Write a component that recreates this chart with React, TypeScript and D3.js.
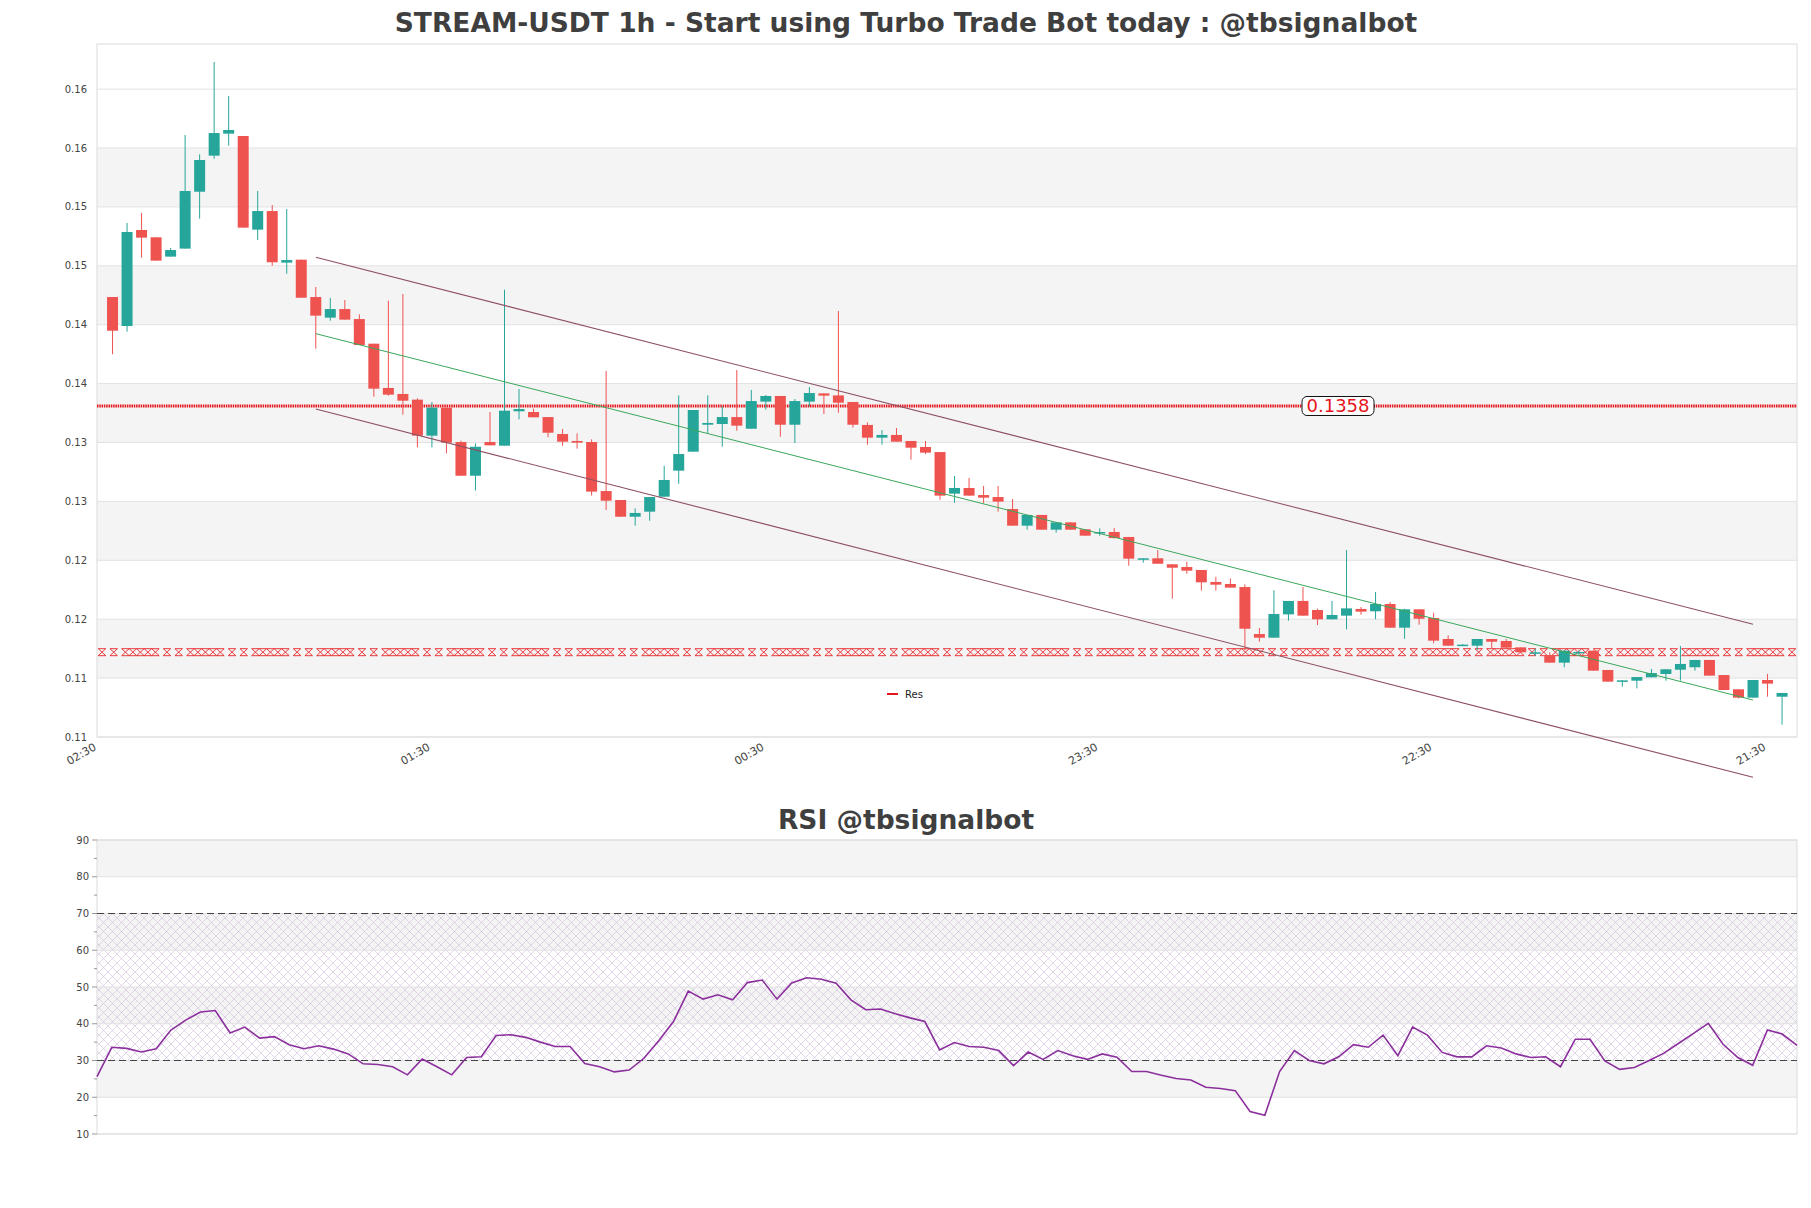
import React, { useEffect, useRef } from 'react';
import * as d3 from 'd3';

// candles, 1h, oldest on the left
const opens = [
  0.14505, 0.14259, 0.15074, 0.15012, 0.14848, 0.14916, 0.15399, 0.15705, 0.15892, 0.15872,
  0.15077, 0.15235, 0.14797, 0.14822, 0.14505, 0.14330, 0.14403, 0.14318, 0.14109, 0.13733,
  0.13682, 0.13634, 0.13328, 0.13566, 0.13274, 0.12988, 0.13274, 0.13243, 0.13535, 0.13529,
  0.13486, 0.13342, 0.13283, 0.13274, 0.12858, 0.12782, 0.12640, 0.12683, 0.12810, 0.13031,
  0.13192, 0.13421, 0.13427, 0.13486, 0.13387, 0.13617, 0.13665, 0.13421, 0.13617, 0.13687,
  0.13670, 0.13614, 0.13419, 0.13311, 0.13334, 0.13283, 0.13232, 0.13189, 0.12836, 0.12884,
  0.12824, 0.12807, 0.12705, 0.12564, 0.12655, 0.12530, 0.12592, 0.12533, 0.12505, 0.12510,
  0.12468, 0.12281, 0.12287, 0.12236, 0.12213, 0.12188, 0.12086, 0.12069, 0.12043, 0.11644,
  0.11613, 0.11811, 0.11925, 0.11848, 0.11769, 0.11800, 0.11857, 0.11837, 0.11899, 0.11698,
  0.11854, 0.11780, 0.11602, 0.11545, 0.11545, 0.11602, 0.11585, 0.11531, 0.11483, 0.11466,
  0.11401, 0.11483, 0.11503, 0.11339, 0.11240, 0.11248, 0.11277, 0.11305, 0.11341, 0.11362,
  0.11424, 0.11296, 0.11175, 0.11104, 0.11254, 0.11112,
];
const highs = [
  0.14505, 0.15133, 0.15218, 0.15012, 0.14921, 0.15880, 0.15716, 0.16500, 0.16211, 0.15872,
  0.15405, 0.15286, 0.15252, 0.14822, 0.14590, 0.14497, 0.14480, 0.14358, 0.14109, 0.14474,
  0.14531, 0.13645, 0.13614, 0.13566, 0.13285, 0.13263, 0.13529, 0.14567, 0.13724, 0.13557,
  0.13486, 0.13385, 0.13348, 0.13297, 0.13877, 0.12782, 0.12711, 0.12807, 0.13071, 0.13670,
  0.13546, 0.13670, 0.13577, 0.13885, 0.13716, 0.13673, 0.13665, 0.13639, 0.13741, 0.13687,
  0.14386, 0.13614, 0.13441, 0.13376, 0.13393, 0.13283, 0.13283, 0.13189, 0.12986, 0.12969,
  0.12901, 0.12901, 0.12790, 0.12655, 0.12655, 0.12592, 0.12592, 0.12533, 0.12541, 0.12544,
  0.12468, 0.12287, 0.12357, 0.12236, 0.12258, 0.12188, 0.12131, 0.12117, 0.12066, 0.11695,
  0.12015, 0.11925, 0.12043, 0.11859, 0.11925, 0.12357, 0.11874, 0.12001, 0.11916, 0.11859,
  0.11854, 0.11825, 0.11633, 0.11559, 0.11602, 0.11602, 0.11602, 0.11531, 0.11520, 0.11489,
  0.11503, 0.11503, 0.11503, 0.11339, 0.11251, 0.11279, 0.11347, 0.11345, 0.11542, 0.11424,
  0.11424, 0.11296, 0.11175, 0.11254, 0.11305, 0.11144,
];
const lows = [
  0.14019, 0.14211, 0.14839, 0.14814, 0.14848, 0.14916, 0.15170, 0.15679, 0.15790, 0.15094,
  0.14989, 0.14771, 0.14703, 0.14499, 0.14067, 0.14304, 0.14313, 0.14098, 0.13659, 0.13667,
  0.13506, 0.13229, 0.13229, 0.13178, 0.12988, 0.12864, 0.13246, 0.13243, 0.13467, 0.13484,
  0.13314, 0.13243, 0.13218, 0.12819, 0.12697, 0.12640, 0.12564, 0.12606, 0.12810, 0.12920,
  0.13192, 0.13348, 0.13235, 0.13370, 0.13387, 0.13549, 0.13319, 0.13266, 0.13574, 0.13512,
  0.13523, 0.13396, 0.13252, 0.13252, 0.13277, 0.13124, 0.13172, 0.12785, 0.12759, 0.12819,
  0.12754, 0.12683, 0.12564, 0.12530, 0.12530, 0.12505, 0.12530, 0.12479, 0.12479, 0.12454,
  0.12224, 0.12250, 0.12241, 0.11944, 0.12156, 0.12012, 0.12012, 0.12038, 0.11509, 0.11579,
  0.11613, 0.11757, 0.11800, 0.11721, 0.11769, 0.11684, 0.11808, 0.11769, 0.11698, 0.11604,
  0.11723, 0.11565, 0.11545, 0.11545, 0.11509, 0.11520, 0.11528, 0.11489, 0.11458, 0.11401,
  0.11362, 0.11470, 0.11333, 0.11240, 0.11197, 0.11183, 0.11277, 0.11248, 0.11248, 0.11333,
  0.11291, 0.11169, 0.11098, 0.11104, 0.11112, 0.10875,
];
const closes = [
  0.14219, 0.15057, 0.15009, 0.14814, 0.14904, 0.15405, 0.15668, 0.15897, 0.15923, 0.15094,
  0.15235, 0.14800, 0.14819, 0.14499, 0.14347, 0.14403, 0.14313, 0.14098, 0.13727, 0.13676,
  0.13625, 0.13328, 0.13566, 0.13269, 0.12988, 0.13234, 0.13246, 0.13540, 0.13554, 0.13484,
  0.13353, 0.13277, 0.13269, 0.12853, 0.12776, 0.12640, 0.12672, 0.12807, 0.12952, 0.13172,
  0.13546, 0.13436, 0.13486, 0.13413, 0.13622, 0.13665, 0.13421, 0.13622, 0.13690, 0.13668,
  0.13608, 0.13421, 0.13311, 0.13334, 0.13277, 0.13226, 0.13184, 0.12819, 0.12884, 0.12819,
  0.12802, 0.12768, 0.12564, 0.12655, 0.12530, 0.12592, 0.12530, 0.12479, 0.12510, 0.12459,
  0.12284, 0.12287, 0.12241, 0.12207, 0.12182, 0.12083, 0.12063, 0.12038, 0.11689, 0.11613,
  0.11814, 0.11925, 0.11800, 0.11769, 0.11806, 0.11862, 0.11834, 0.11899, 0.11698, 0.11854,
  0.11774, 0.11588, 0.11545, 0.11554, 0.11602, 0.11579, 0.11528, 0.11489, 0.11489, 0.11401,
  0.11503, 0.11492, 0.11333, 0.11240, 0.11251, 0.11279, 0.11313, 0.11345, 0.11390, 0.11424,
  0.11291, 0.11169, 0.11104, 0.11254, 0.11223, 0.11144,
];

const rsiValues = [
  25.6, 33.6, 33.3, 32.3, 33.2, 38.3, 41.0, 43.2, 43.6, 37.5,
  39.1, 36.1, 36.5, 34.3, 33.2, 34.0, 33.1, 31.8, 29.1, 28.9,
  28.3, 26.1, 30.4, 28.3, 26.1, 30.8, 31.0, 36.8, 37.0, 36.3,
  35.0, 33.8, 33.8, 29.2, 28.3, 26.9, 27.4, 30.6, 35.4, 40.6,
  48.9, 46.7, 47.9, 46.5, 51.2, 51.9, 46.7, 51.1, 52.5, 52.1,
  51.0, 46.5, 43.8, 44.0, 42.7, 41.6, 40.6, 32.9, 34.9, 33.8,
  33.6, 32.7, 28.6, 32.3, 30.3, 32.7, 31.3, 30.3, 31.8, 30.9,
  27.0, 27.0, 26.0, 25.1, 24.7, 22.7, 22.4, 21.8, 16.1, 15.1,
  27.0, 32.7, 30.0, 29.1, 31.0, 34.3, 33.6, 36.9, 31.3, 39.1,
  36.9, 32.2, 31.0, 31.0, 34.0, 33.4, 31.8, 30.8, 31.0, 28.3,
  35.8, 35.8, 29.9, 27.6, 28.1, 30.0, 32.0, 34.7, 37.4, 40.1,
  34.4, 30.8, 28.7, 38.3, 37.2, 34.1,
];

const priceTicks = [0.1077, 0.1127, 0.1177, 0.1227, 0.1277, 0.1327, 0.1377, 0.1427, 0.1477, 0.1527, 0.1577, 0.1627];
const timeTickIndex = [-1, 22, 45, 68, 91, 114];
const timeTickLabels = ['02:30', '01:30', '00:30', '23:30', '22:30', '21:30'];
const rsiTicks = [10, 20, 30, 40, 50, 60, 70, 80, 90];

const resistanceLevel = 0.1358;
const supportLevel = 0.1149;
const channelIndex = [14, 113];
const upperChannel = [0.14842, 0.11727];
const midChannel = [0.14194, 0.11084];
const lowerChannel = [0.13554, 0.10428];

const W = 1811;
const H = 1208;
const main = { left: 97, right: 1797, top: 44, bottom: 737 };
const rsiBox = { left: 97, right: 1797, top: 840, bottom: 1134 };
const UP = '#26a69a';
const DOWN = '#ef5350';
const FONT = 'DejaVu Sans, sans-serif';

export default function App() {
  const svgRef = useRef<SVGSVGElement>(null);

  useEffect(() => {
    const svg = d3.select(svgRef.current);
    svg.selectAll('*').remove();

    svg.append('rect').attr('width', W).attr('height', H).attr('fill', '#fff');

    // hatch for the rsi 30-70 zone
    const defs = svg.append('defs');
    const pat = defs.append('pattern')
      .attr('id', 'hatch').attr('patternUnits', 'userSpaceOnUse')
      .attr('width', 9).attr('height', 9);
    pat.append('path').attr('d', 'M0,0 L9,9 M9,0 L0,9')
      .attr('stroke', '#cdbcd8').attr('stroke-width', 0.6).attr('fill', 'none');

    // ---------- price chart ----------
    const x = d3.scaleLinear().domain([-1.07, 116.03]).range([main.left, main.right]);
    const y = d3.scaleLinear().domain([0.1077, 0.16653]).range([main.bottom, main.top]);
    const fmt = d3.format('.2f');

    const g = svg.append('g');

    // alternating bands
    for (let k = 1; k + 1 < priceTicks.length; k += 2) {
      g.append('rect')
        .attr('x', main.left).attr('width', main.right - main.left)
        .attr('y', y(priceTicks[k + 1])).attr('height', y(priceTicks[k]) - y(priceTicks[k + 1]))
        .attr('fill', '#f4f4f4');
    }
    g.selectAll('line.grid').data(priceTicks).enter().append('line')
      .attr('x1', main.left).attr('x2', main.right)
      .attr('y1', d => y(d)).attr('y2', d => y(d))
      .attr('stroke', '#e2e2e2').attr('stroke-width', 1);

    g.append('rect')
      .attr('x', main.left).attr('y', main.top)
      .attr('width', main.right - main.left).attr('height', main.bottom - main.top)
      .attr('fill', 'none').attr('stroke', '#dcdcdc');

    g.selectAll('text.ylab').data(priceTicks).enter().append('text')
      .attr('x', main.left - 10).attr('y', d => y(d))
      .attr('dy', '0.35em').attr('text-anchor', 'end')
      .attr('font-family', FONT).attr('font-size', 10).attr('fill', '#444')
      .text(d => fmt(d));

    timeTickIndex.forEach((idx, i) => {
      g.append('text')
        .attr('transform', `translate(${x(idx) - 3},${main.bottom + 9}) rotate(-30)`)
        .attr('text-anchor', 'end').attr('dy', '0.35em')
        .attr('font-family', FONT).attr('font-size', 11).attr('fill', '#444')
        .text(timeTickLabels[i]);
    });

    // support "Res" line drawn with hourglass x markers
    const sy = y(supportLevel);
    const sg = g.append('g').attr('stroke', '#e8262a').attr('stroke-width', 0.9).attr('fill', 'none');
    const groupOffsets = [0, 11.7, 23.4, 30.9, 38.4, 45.9, 53.4];
    const mw = 3.75;
    const mh = 3.5;
    for (let px = main.left + 5; px < main.right; px += 65) {
      groupOffsets.forEach(o => {
        const cx = px + o;
        if (cx > main.right - mw) return;
        sg.append('path').attr('d',
          `M${cx - mw},${sy - mh}L${cx + mw},${sy + mh}M${cx + mw},${sy - mh}L${cx - mw},${sy + mh}` +
          `M${cx - mw},${sy - mh}H${cx + mw}M${cx - mw},${sy + mh}H${cx + mw}`);
      });
    }

    // resistance line
    const ry = y(resistanceLevel);
    g.append('line').attr('x1', main.left).attr('x2', main.right).attr('y1', ry).attr('y2', ry)
      .attr('stroke', '#e4161b').attr('stroke-width', 3).attr('stroke-dasharray', '1.5,0.8');

    // candles
    const candles = opens.map((o, i) => ({ i, o, h: highs[i], l: lows[i], c: closes[i] }));
    const bw = 11;
    const cg = g.selectAll('g.candle').data(candles).enter().append('g');
    cg.append('line')
      .attr('x1', d => x(d.i)).attr('x2', d => x(d.i))
      .attr('y1', d => y(d.h)).attr('y2', d => y(d.l))
      .attr('stroke', d => (d.c >= d.o ? UP : DOWN)).attr('stroke-width', 1);
    cg.append('rect')
      .attr('x', d => x(d.i) - bw / 2).attr('width', bw)
      .attr('y', d => y(Math.max(d.o, d.c)))
      .attr('height', d => Math.max(1.5, Math.abs(y(d.o) - y(d.c))))
      .attr('fill', d => (d.c >= d.o ? UP : DOWN));

    // channel
    const line = d3.line<number>().x((_, k) => x(channelIndex[k])).y(d => y(d));
    g.append('path').attr('d', line(upperChannel)).attr('stroke', '#8e5062').attr('stroke-width', 1.1).attr('fill', 'none');
    g.append('path').attr('d', line(lowerChannel)).attr('stroke', '#8e5062').attr('stroke-width', 1.1).attr('fill', 'none');
    g.append('path').attr('d', line(midChannel)).attr('stroke', '#3aa85a').attr('stroke-width', 1).attr('fill', 'none');

    // level label
    const lx = 1338;
    const lab = g.append('g');
    lab.append('rect').attr('x', lx - 36).attr('y', ry - 9.5).attr('width', 72).attr('height', 19)
      .attr('rx', 5).attr('fill', '#fff').attr('stroke', '#111').attr('stroke-width', 1);
    lab.append('text').attr('x', lx).attr('y', ry).attr('dy', '0.36em').attr('text-anchor', 'middle')
      .attr('font-family', FONT).attr('font-size', 18).attr('fill', '#e4161b').text(String(resistanceLevel));

    // legend
    const leg = g.append('g').attr('transform', `translate(887,${main.bottom - 43})`);
    leg.append('line').attr('x1', 0).attr('x2', 11).attr('stroke', '#e4161b').attr('stroke-width', 2);
    leg.append('text').attr('x', 18).attr('dy', '0.35em').attr('font-family', FONT).attr('font-size', 10)
      .attr('fill', '#222').text('Res');

    svg.append('text').attr('x', 906).attr('y', 32).attr('text-anchor', 'middle')
      .attr('font-family', FONT).attr('font-weight', 'bold').attr('font-size', 26.5).attr('fill', '#3f3f3f')
      .text('STREAM-USDT 1h - Start using Turbo Trade Bot today : @tbsignalbot');

    // ---------- RSI ----------
    const rx = d3.scaleLinear().domain([0, rsiValues.length - 1]).range([rsiBox.left, rsiBox.right]);
    const ryS = d3.scaleLinear().domain([10, 90]).range([rsiBox.bottom, rsiBox.top]);
    const r = svg.append('g');

    [20, 40, 60, 80].forEach(v => {
      r.append('rect').attr('x', rsiBox.left).attr('width', rsiBox.right - rsiBox.left)
        .attr('y', ryS(v + 10)).attr('height', ryS(v) - ryS(v + 10)).attr('fill', '#f4f4f4');
    });
    r.append('rect').attr('x', rsiBox.left).attr('width', rsiBox.right - rsiBox.left)
      .attr('y', ryS(70)).attr('height', ryS(30) - ryS(70)).attr('fill', 'url(#hatch)');
    r.selectAll('line.grid').data(rsiTicks).enter().append('line')
      .attr('x1', rsiBox.left).attr('x2', rsiBox.right)
      .attr('y1', d => ryS(d)).attr('y2', d => ryS(d))
      .attr('stroke', '#e2e2e2');
    r.append('rect').attr('x', rsiBox.left).attr('y', rsiBox.top)
      .attr('width', rsiBox.right - rsiBox.left).attr('height', rsiBox.bottom - rsiBox.top)
      .attr('fill', 'none').attr('stroke', '#dcdcdc');

    [30, 70].forEach(v => {
      r.append('line').attr('x1', rsiBox.left).attr('x2', rsiBox.right)
        .attr('y1', ryS(v)).attr('y2', ryS(v))
        .attr('stroke', '#444').attr('stroke-width', 1.1).attr('stroke-dasharray', '7,4');
    });

    const minor = d3.range(15, 90, 10);
    r.selectAll('line.minor').data(minor).enter().append('line')
      .attr('x1', rsiBox.left - 3).attr('x2', rsiBox.left)
      .attr('y1', d => ryS(d)).attr('y2', d => ryS(d)).attr('stroke', '#999');
    r.selectAll('line.major').data(rsiTicks).enter().append('line')
      .attr('x1', rsiBox.left - 5).attr('x2', rsiBox.left)
      .attr('y1', d => ryS(d)).attr('y2', d => ryS(d)).attr('stroke', '#999');
    r.selectAll('text.ylab').data(rsiTicks).enter().append('text')
      .attr('x', rsiBox.left - 8).attr('y', d => ryS(d)).attr('dy', '0.35em')
      .attr('text-anchor', 'end').attr('font-family', FONT).attr('font-size', 10).attr('fill', '#444')
      .text(d => d);

    const rsiLine = d3.line<number>().x((_, i) => rx(i)).y(d => ryS(d));
    r.append('path').attr('d', rsiLine(rsiValues)).attr('fill', 'none')
      .attr('stroke', '#8b2f9d').attr('stroke-width', 1.6);

    svg.append('text').attr('x', 906).attr('y', 829).attr('text-anchor', 'middle')
      .attr('font-family', FONT).attr('font-weight', 'bold').attr('font-size', 26.5).attr('fill', '#3f3f3f')
      .text('RSI @tbsignalbot');
  }, []);

  return (
    <svg ref={svgRef} width={W} height={H} style={{ position: 'absolute', left: 0, top: 0 }}></svg>
  );
}
